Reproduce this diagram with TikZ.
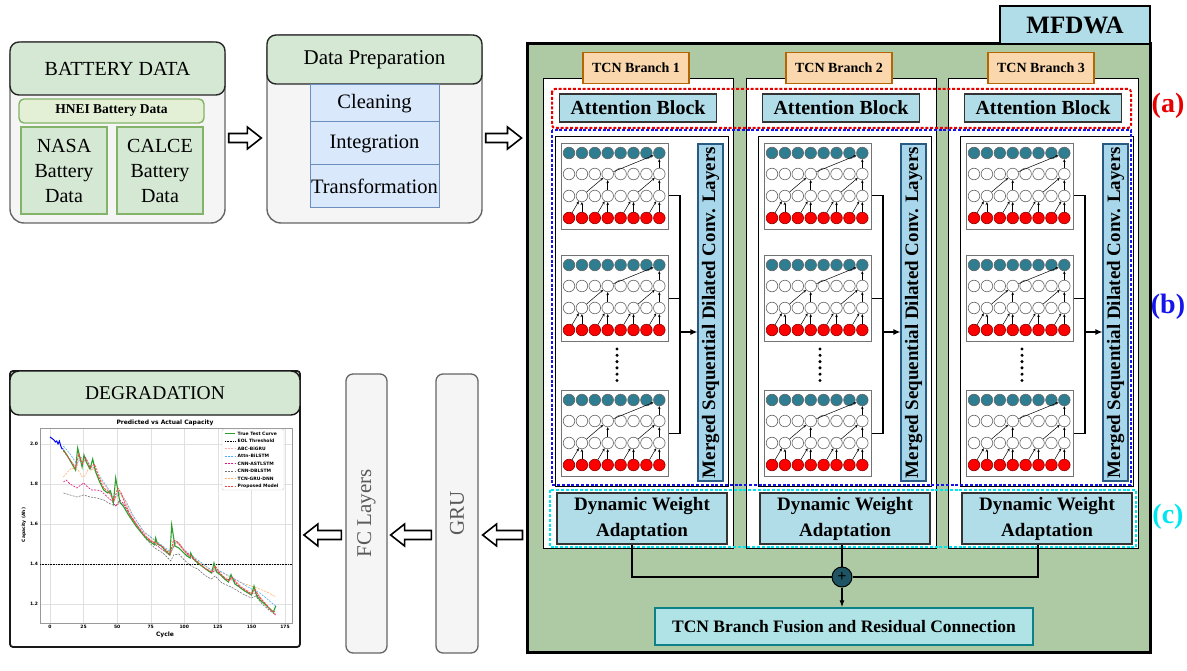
\documentclass[tikz,border=0pt]{standalone}
\usepackage{fontspec}
\setmainfont{Liberation Serif}
\newfontfamily\plotfont{DejaVu Sans}
\usepackage{xcolor}
\usepackage{graphicx}
\usetikzlibrary{calc,arrows.meta}

\definecolor{headgreen}{RGB}{213,232,212}
\definecolor{bodygray}{RGB}{245,245,245}
\definecolor{edgegray}{RGB}{102,102,102}
\definecolor{leafgreen}{RGB}{130,179,102}
\definecolor{hneifill}{RGB}{228,240,214}
\definecolor{prepblue}{RGB}{218,232,252}
\definecolor{prepedge}{RGB}{108,142,191}
\definecolor{mossgreen}{RGB}{174,202,165}
\definecolor{skyblue}{RGB}{177,221,232}
\definecolor{mergeblue}{RGB}{168,215,236}
\definecolor{mergeedge}{RGB}{40,90,130}
\definecolor{fusefill}{RGB}{176,227,230}
\definecolor{fuseedge}{RGB}{14,128,136}
\definecolor{branchfill}{RGB}{250,215,172}
\definecolor{branchedge}{RGB}{180,101,4}
\definecolor{tealnode}{RGB}{46,125,145}
\definecolor{sumteal}{RGB}{30,85,100}
\definecolor{labred}{RGB}{230,0,0}
\definecolor{labblue}{RGB}{20,20,235}
\definecolor{labcyan}{RGB}{0,230,240}
\definecolor{truegreen}{RGB}{44,160,44}
\definecolor{propred}{RGB}{240,70,70}

\tikzstyle{body} = [draw=edgegray, fill=bodygray, line width=1.4pt,
  rounded corners=14pt, inner sep=0pt]
\tikzstyle{header} = [draw=black!85, fill=headgreen, line width=1.4pt,
  rounded corners=9pt, inner sep=0pt, font=\fontsize{20}{24}\selectfont]
\tikzstyle{leaf} = [draw=leafgreen, fill=headgreen, line width=1.6pt,
  inner sep=0pt, align=center, font=\fontsize{20}{25}\selectfont]
\tikzstyle{hnei} = [draw=leafgreen, fill=hneifill, line width=1.4pt,
  rounded corners=5pt, inner sep=0pt, font=\bfseries\fontsize{13.5}{15}\selectfont]
\tikzstyle{prepitem} = [draw=prepedge, fill=prepblue, line width=1pt,
  minimum width=129, inner sep=0pt, font=\fontsize{20.5}{24}\selectfont]
\tikzstyle{panel} = [draw=black, fill=white, line width=1.2pt,
  minimum width=190, minimum height=470, inner sep=0pt]
\tikzstyle{branchtag} = [draw=branchedge, fill=branchfill, line width=1.3pt,
  minimum width=106, minimum height=31, inner sep=0pt,
  font=\bfseries\fontsize{14}{16}\selectfont]
\tikzstyle{attn} = [draw=black!80, fill=skyblue, line width=1.4pt,
  minimum width=157, minimum height=28, inner sep=0pt,
  font=\bfseries\fontsize{20}{22}\selectfont]
\tikzstyle{dwa} = [attn, minimum width=170, minimum height=51, align=center,
  font=\bfseries\fontsize{19}{26}\selectfont]
\tikzstyle{merged} = [draw=mergeedge, fill=mergeblue, line width=1.2pt,
  minimum width=25, minimum height=337, inner sep=0pt,
  font=\bfseries\fontsize{19}{20}\selectfont]
\tikzstyle{netbox} = [draw=black!55, fill=white, line width=1.2pt,
  minimum width=107, minimum height=86, inner sep=0pt]
\tikzstyle{outcell} = [circle, draw=black!60, fill=tealnode, line width=0.6pt,
  minimum size=11.6pt, inner sep=0pt]
\tikzstyle{hidcell} = [outcell, fill=white]
\tikzstyle{incell} = [outcell, fill=red, draw=red!55!black]
\tikzstyle{netarrow} = [-{Stealth[length=3pt,width=2.6pt]}, line width=0.5pt]
\tikzstyle{sidebar} = [draw=edgegray, fill=bodygray, line width=1.3pt,
  rounded corners=7pt, inner sep=0pt, text=black!65,
  font=\fontsize{21}{24}\selectfont]
\tikzstyle{tagletter} = [inner sep=0pt, font=\bfseries\fontsize{28}{30}\selectfont]
\tikzstyle{groupline} = [line width=2pt, dash pattern=on 3pt off 1.8pt]
\tikzstyle{wire} = [line width=1.2pt]
\tikzstyle{gridline} = [black!12, line width=0.4pt]
\tikzstyle{truecurve} = [truegreen, line width=1.1pt]
\tikzstyle{eolcurve} = [black, line width=0.7pt, dash pattern=on 0.8pt off 0.8pt]
\tikzstyle{abccurve} = [pink!90!red, line width=0.6pt, dash pattern=on 2pt off 1.2pt]
\tikzstyle{attncurve} = [blue!45!cyan!70, line width=0.6pt, dash pattern=on 2pt off 1.2pt]
\tikzstyle{astcurve} = [magenta!70!purple, line width=0.6pt, dash pattern=on 2pt off 1.2pt]
\tikzstyle{dbcurve} = [black!55, line width=0.6pt, dash pattern=on 2pt off 1.2pt]
\tikzstyle{tcngrucurve} = [orange!60, line width=0.6pt, dash pattern=on 2pt off 1.2pt]
\tikzstyle{propcurve} = [propred, line width=0.9pt, dash pattern=on 2pt off 1.2pt]

% block arrow drawn between two horizontal points
\tikzset{hollow/.style={draw=black, fill=white, line width=1.6pt,
  to path={let \p1=(\tikztostart), \p2=(\tikztotarget), \n1={sign(\x2-\x1)} in
    (\x1,\y1+4.5pt) -- (\x2-\n1*14pt,\y1+4.5pt) -- (\x2-\n1*14pt,\y1+11pt)
    -- (\x2,\y1) -- (\x2-\n1*14pt,\y1-11pt) -- (\x2-\n1*14pt,\y1-4.5pt)
    -- (\x1,\y1-4.5pt) -- cycle}}}

% one dilated causal conv stack: name, left, top
\newcommand{\tcnnet}[3]{%
  \node[netbox, anchor=north west] (#1) at (#2,#3) {};
  \foreach \nrow/\nst/\ndy in {1/outcell/10,2/hidcell/31,3/hidcell/53,4/incell/75}
    \foreach \ncol in {1,...,8}
      \node[\nst] (#1-\nrow-\ncol) at ({#2+8+12.9*(\ncol-1)},{#3+\ndy}) {};
  \foreach \ncol/\nprev in {2/1,4/3,6/5,8/7} {
    \draw[netarrow] (#1-4-\ncol) -- (#1-3-\ncol);
    \draw[netarrow] (#1-4-\nprev) -- (#1-3-\ncol);
  }
  \foreach \ncol/\nprev in {4/2,8/6} {
    \draw[netarrow] (#1-3-\ncol) -- (#1-2-\ncol);
    \draw[netarrow] (#1-3-\nprev) -- (#1-2-\ncol);
  }
  \draw[netarrow] (#1-2-8) -- (#1-1-8);
  \draw[netarrow] (#1-2-4) -- (#1-1-8);
}

\begin{document}
\begin{tikzpicture}[x=1pt, y=-1pt]
  \useasboundingbox (0,0) rectangle (1187,671);

  % battery data
  \node[body, minimum width=215, minimum height=181] (bat) at (117.5,132.5) {};
  \node[header, minimum width=215, minimum height=53] (bathead) at (117.5,68.5) {BATTERY DATA};
  \node[hnei, minimum width=185, minimum height=24] (hnei) at (111.5,111) {HNEI Battery Data};
  \node[leaf, minimum width=86, minimum height=87] (nasa) at (64,170.5) {NASA\\Battery\\Data};
  \node[leaf, minimum width=86, minimum height=87] (calce) at (160,170.5) {CALCE\\Battery\\Data};

  % data preparation
  \node[body, minimum width=215, minimum height=188] (prep) at (374.5,129) {};
  \node[header, minimum width=215, minimum height=49, font=\fontsize{21}{24}\selectfont]
    (prephead) at (374.5,59.5) {Data Preparation};
  \node[prepitem, minimum height=37] (clean) at (374.5,103.5) {Cleaning};
  \node[prepitem, minimum height=43] (integ) at (374.5,143.5) {Integration};
  \node[prepitem, minimum height=43] (trans) at (374.5,186.5) {Transformation};

  % MFDWA frame
  \node[draw=black, fill=mossgreen, line width=3pt, minimum width=623,
    minimum height=608, inner sep=0pt] (mfdwa) at (838.5,348) {};
  \node[draw=black, fill=skyblue, line width=2.5pt, minimum width=150,
    minimum height=38, inner sep=0pt, font=\bfseries\fontsize{25}{28}\selectfont]
    (mfdwatag) at (1075,25) {MFDWA};

  \draw[hollow] ($(bat.east)+(3,5.5)$) to ($(prep.west)+(-5,0)$);
  \draw[hollow] ($(prep.east)+(3,9)$) to ($(mfdwa.west)+(-4,0)$);

  % three TCN branches
  \foreach \b/\L in {1/543,2/746,3/948} {
    \node[panel, anchor=north west] (panel\b) at (\L,78) {};
    \node[draw=black, line width=0.8pt, minimum width=173, minimum height=350,
      inner sep=0pt, anchor=north west] (frame\b) at (\L+12,136) {};
    \node[branchtag] (tag\b) at (\L+93,68) {TCN Branch \b};
    \node[attn] (attn\b) at (\L+95,108) {Attention Block};
    \tcnnet{net\b-1}{\L+18}{143}
    \tcnnet{net\b-2}{\L+18}{255}
    \tcnnet{net\b-3}{\L+18}{390}
    \foreach \k in {0,...,5}
      \fill (\L+74,349+6.3*\k) circle (1.7pt);
    \node[merged] (merged\b) at (\L+167.5,312.5)
      {\rotatebox{90}{Merged Sequential Dilated Conv. Layers}};
    \coordinate (bus\b) at (\L+137,332);
    \draw[wire] ([yshift=-9pt]net\b-1.east) -| (bus\b |- net\b-3.east) -- (net\b-3.east);
    \draw[wire] (net\b-2.east) -- (net\b-2.east -| bus\b);
    \draw[wire, -{Latex[length=7pt,width=6pt]}] (bus\b) -- (bus\b -| merged\b.west);
    \node[dwa] (dwa\b) at (\L+99,518.5) {Dynamic Weight\\Adaptation};
  }

  % grouping frames
  \draw[groupline, labred, rounded corners=3pt] (552,89) rectangle (1131,128);
  \draw[groupline, labblue] (552,130) rectangle (1131,485);
  \draw[groupline, labcyan] (550,490) rectangle (1136,547);
  \node[tagletter, text=labred] (taga) at (1168,106) {(a)};
  \node[tagletter, text=labblue] (tagb) at (1168,307) {(b)};
  \node[tagletter, text=labcyan] (tagc) at (1168,517) {(c)};

  % fusion
  \node[circle, draw=black, fill=sumteal, minimum size=20pt, inner sep=0pt,
    line width=1pt, font=\bfseries\fontsize{16}{16}\selectfont] (sum) at (842,577) {+};
  \node[draw=fuseedge, fill=fusefill, line width=1.4pt, minimum width=378,
    minimum height=37, inner sep=0pt, font=\bfseries\fontsize{17.5}{20}\selectfont]
    (fusion) at (844,626.5) {TCN Branch Fusion and Residual Connection};
  \draw[wire] ([xshift=-10pt]dwa1.south) |- (sum.west);
  \draw[wire] ([xshift=-9pt]dwa3.south) |- (sum.east);
  \draw[wire] (sum.north) -- (sum.north |- dwa2.south);
  \draw[wire, -{Latex[length=7pt,width=5pt]}] (sum.south) -- (sum.south |- fusion.north);

  % GRU and FC layers
  \node[sidebar, minimum width=42, minimum height=279] (gru) at (457,513.5) {\rotatebox{90}{GRU}};
  \node[sidebar, minimum width=41, minimum height=279] (fc) at (366.5,513.5) {\rotatebox{90}{FC Layers}};

  % degradation result
  \node[draw=black!90, fill=white, line width=1.8pt, rounded corners=3pt,
    minimum width=290, minimum height=276, inner sep=0pt] (degrade) at (155,509) {};
  \node[header, draw=black!90, minimum width=290, minimum height=44,
    font=\fontsize{19.5}{22}\selectfont] (degradehead) at (155,393) {DEGRADATION};

  \draw[hollow] ($(mfdwa.west |- gru.east)+(-3,21.5)$) to ($(gru.east)+(4,0)$);
  \draw[hollow] ($(gru.west)+(-4,21.5)$) to ($(fc.east)+(3,0)$);
  \draw[hollow] ($(fc.west)+(-4,21.5)$) to ($(degrade.east)+(3,0)$);

  % capacity plot
  \begin{scope}[font=\plotfont\bfseries\fontsize{4.5}{5}\selectfont]
    \node[font=\plotfont\bfseries\fontsize{6}{7}\selectfont, inner sep=0pt]
      (plottitle) at (165,422.5) {Predicted vs Actual Capacity};
    \node[font=\plotfont\bfseries\fontsize{6}{7}\selectfont, inner sep=0pt]
      (xlabel) at (165,635) {Cycle};
    \node[rotate=90, inner sep=0pt] (ylabel) at (24,525) {Capacity (Ah)};
  \end{scope}
  \begin{scope}[shift={(50,844)}, xscale=1.343, yscale=-200,
      font=\plotfont\bfseries\fontsize{4.5}{5}\selectfont]
    \foreach \t in {0,25,...,175} {
      \draw[gridline] (\t,1.105) -- (\t,2.08);
      \node[anchor=north, inner sep=1pt] (xt\t) at (\t,1.1) {\t};
    }
    \foreach \v [count=\i] in {1.2,1.4,1.6,1.8,2.0} {
      \draw[gridline] (-7.4,\v) -- (180.2,\v);
      \node[anchor=east, inner sep=1pt] (yt\i) at (-8,\v) {\v};
    }
    \draw[black!40, line width=0.5pt] (-7.4,1.105) rectangle (180.2,2.08);
    \draw[eolcurve] (-7.4,1.4) -- (180.2,1.4);
    \draw[dbcurve] plot coordinates {(10,1.755) (15,1.745) (20,1.735) (25,1.745)
      (30,1.735) (35,1.73) (40,1.72) (45,1.7) (49,1.69) (52,1.705) (55,1.695)
      (60,1.64) (66,1.58) (72,1.52) (78,1.48) (84,1.455) (90,1.415) (92,1.445)
      (96,1.45) (100,1.42) (105,1.39) (110,1.375) (115,1.345) (120,1.325)
      (123,1.34) (128,1.305) (135,1.285) (140,1.265) (145,1.245) (150,1.23)
      (153,1.24) (158,1.2) (163,1.17) (168,1.145)};
    \draw[astcurve] plot coordinates {(10,1.81) (12,1.82) (15,1.8) (20,1.78)
      (22,1.79) (25,1.805) (28,1.785) (31,1.77) (35,1.77) (38,1.765) (42,1.74)
      (46,1.715) (49,1.69) (52,1.72) (55,1.7) (60,1.64) (66,1.585) (72,1.535)
      (80,1.49) (89,1.445) (93,1.5) (96,1.505) (102,1.45) (110,1.405) (120,1.355)
      (124,1.37) (130,1.325) (136,1.32) (142,1.285) (150,1.25) (153,1.255)
      (160,1.2) (168,1.145)};
    \draw[tcngrucurve] plot coordinates {(10,1.835) (13,1.86) (16,1.88) (19,1.875)
      (21,1.87) (24,1.835) (26,1.84) (29,1.88) (33,1.87) (38,1.82) (44,1.765)
      (48,1.725) (52,1.75) (56,1.72) (62,1.64) (70,1.56) (80,1.505) (90,1.455)
      (94,1.51) (100,1.465) (110,1.415) (120,1.37) (125,1.37) (135,1.33)
      (145,1.3) (152,1.285) (158,1.27) (163,1.255) (168,1.235)};
    \draw[attncurve] plot coordinates {(10,1.99) (15,1.95) (20,1.9) (23,1.93)
      (26,1.94) (30,1.89) (33,1.88) (38,1.83) (44,1.77) (48,1.73) (52,1.755)
      (56,1.72) (62,1.64) (70,1.56) (80,1.51) (90,1.46) (94,1.515) (100,1.47)
      (110,1.42) (120,1.37) (125,1.37) (135,1.335) (145,1.295) (150,1.275)
      (155,1.26) (160,1.235) (168,1.19)};
    \draw[abccurve] plot coordinates {(10,1.975) (15,1.92) (20,1.88) (22,1.94)
      (25,1.91) (27,1.925) (31,1.87) (34,1.89) (38,1.82) (44,1.765) (48,1.72)
      (51,1.765) (54,1.745) (58,1.68) (65,1.595) (72,1.535) (80,1.5) (89,1.455)
      (93,1.51) (96,1.505) (102,1.455) (110,1.405) (120,1.36) (123,1.385)
      (130,1.33) (136,1.33) (142,1.29) (150,1.255) (153,1.265) (160,1.2) (168,1.15)};
    \draw[blue, line width=1pt] plot coordinates {(0,2.035) (2,2.025) (3,2.02)
      (4,2.01) (5,2.015) (6,2.0) (7,2.015) (8,1.99) (9,1.975) (10,1.975)};
    \draw[truecurve] plot coordinates {(10,1.97) (13,1.94) (16,1.905) (19,1.87)
      (20.6,1.98) (23.9,1.885) (25.3,1.945) (27,1.91) (29.8,1.875) (31.8,1.925)
      (34,1.86) (37,1.81) (40,1.77) (43,1.755) (45,1.765) (47.2,1.705) (48.9,1.83)
      (50.5,1.77) (52,1.71) (55,1.685) (58,1.65) (61,1.62) (64,1.59) (67,1.565)
      (70,1.54) (73,1.52) (76,1.505) (78,1.495) (78.7,1.53) (80,1.5) (83,1.49)
      (86,1.465) (89.3,1.445) (90.6,1.595) (93,1.49) (96,1.48) (99,1.46)
      (102,1.44) (104.3,1.43) (104.8,1.455) (107,1.425) (110,1.405) (113,1.39)
      (117,1.37) (120.4,1.355) (122.1,1.405) (124,1.36) (127,1.345) (130,1.325)
      (132.8,1.31) (134.8,1.347) (137.7,1.3) (141,1.285) (145,1.265) (150,1.245)
      (151.9,1.29) (153.9,1.24) (157,1.215) (160,1.2) (163,1.18) (166.3,1.16)
      (168.1,1.19)};
    \draw[propcurve] plot coordinates {(10,1.965) (14,1.93) (19,1.88) (21.5,1.95)
      (24,1.9) (26.5,1.93) (30,1.88) (33,1.9) (36,1.84) (40,1.78) (44,1.76)
      (47.5,1.715) (50.5,1.78) (53,1.755) (56,1.7) (60,1.64) (65,1.59) (70,1.545)
      (75,1.515) (79.5,1.505) (83,1.49) (89.5,1.45) (92,1.52) (95,1.51)
      (100,1.465) (105,1.44) (110,1.41) (115,1.38) (120.5,1.36) (123,1.39)
      (127,1.35) (133,1.315) (135.5,1.335) (140,1.295) (145,1.27) (150,1.25)
      (152.5,1.275) (156,1.235) (160,1.205) (165,1.165) (168,1.16)};
  \end{scope}

  % legend
  \begin{scope}[font=\plotfont\bfseries\fontsize{4.5}{5}\selectfont]
    \draw[black!20, fill=white, rounded corners=1.5pt] (222,429) rectangle (284,490);
    \foreach \lname/\lsty [count=\i] in {True Test Curve/truecurve,
        EOL Threshold/eolcurve, ABC-BiGRU/abccurve, Attn-BiLSTM/attncurve,
        CNN-ASTLSTM/astcurve, CNN-DBLSTM/dbcurve, TCN-GRU-DNN/tcngrucurve,
        Proposed Model/propcurve} {
      \draw[\lsty] (225,{426+7.5*\i}) -- (235,{426+7.5*\i});
      \node[anchor=west, inner sep=0.5pt] (leg\i) at (237,{426+7.5*\i}) {\lname};
    }
  \end{scope}
\end{tikzpicture}
\end{document}
